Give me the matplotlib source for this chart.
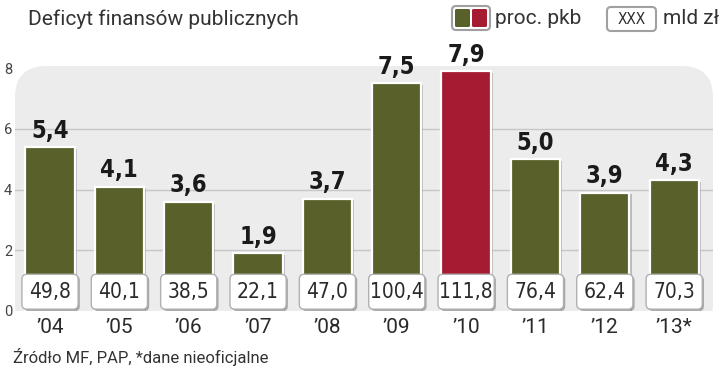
import matplotlib.pyplot as plt
from matplotlib.patches import FancyBboxPatch

lata = ["’04", "’05", "’06", "’07", "’08", "’09", "’10", "’11", "’12", "’13*"]
deficyt_pkb = [5.4, 4.1, 3.6, 1.9, 3.7, 7.5, 7.9, 5.0, 3.9, 4.3]
deficyt_mld = [49.8, 40.1, 38.5, 22.1, 47.0, 100.4, 111.8, 76.4, 62.4, 70.3]
wyrozniony = "’10"

oliwka = '#5a602a'
czerwony = '#a51c32'
tlo = '#ececec'
tekst = '#2a2a2a'

def pl(v):
    return f'{v:.1f}'.replace('.', ',')

fig = plt.figure(figsize=(7.2, 3.7), dpi=100)
ax = fig.add_axes([15/720, 1 - 311/370, 698/720, 245/370])
ax.set_xlim(-0.505, 9.56)
ax.set_ylim(0, 8.07)
ax.patch.set_visible(False)
for s in ax.spines.values():
    s.set_visible(False)

# szare tlo, zaokraglone tylko u gory (dol obciety przez osie)
panel = FancyBboxPatch((0, -0.1), 1, 1.1, boxstyle='round,pad=0,rounding_size=0.045',
                       mutation_aspect=698/245, transform=ax.transAxes,
                       facecolor=tlo, edgecolor='none', zorder=0)
ax.add_patch(panel)
for g in [2, 4, 6]:
    ax.axhline(g, color='#c6c6c6', lw=1, zorder=1)

x = list(range(len(lata)))
kolory = [czerwony if l == wyrozniony else oliwka for l in lata]
asp = 69.8 / 30.4

# cien pod slupkami
ax.bar([i + 0.02 for i in x], deficyt_pkb, width=0.73, bottom=-0.06,
       color='#9a9a9a', alpha=0.6, zorder=2)
ax.bar(x, deficyt_pkb, width=0.71, color=kolory, edgecolor='white',
       linewidth=1.6, zorder=3)

for i, v in enumerate(deficyt_pkb):
    ax.text(i, v + 0.14, pl(v), ha='center', va='bottom', fontsize=17,
            fontweight='bold', family='DejaVu Sans', fontstretch='condensed',
            color='#1a1a1a', zorder=5)

# ramki z kwotami w mld zl
for i, m in enumerate(deficyt_mld):
    sh = FancyBboxPatch((i - 0.40 + 0.02, 0.0), 0.81, 1.16,
                        boxstyle='round,pad=0,rounding_size=0.07',
                        mutation_aspect=asp, facecolor='#8a8a8a',
                        edgecolor='none', alpha=0.7, zorder=4)
    ax.add_patch(sh)
    b = FancyBboxPatch((i - 0.405, 0.06), 0.81, 1.15,
                       boxstyle='round,pad=0,rounding_size=0.07',
                       mutation_aspect=asp, facecolor='white',
                       edgecolor='#b0b0b0', linewidth=1, zorder=4.5)
    ax.add_patch(b)
    ax.text(i, 0.62, pl(m), ha='center', va='center', fontsize=15,
            family='DejaVu Sans', fontstretch='condensed', color=tekst, zorder=5)

ax.set_xticks(x)
ax.set_xticklabels(lata, fontsize=15, color=tekst, family='Roboto')
ax.set_yticks([0, 2, 4, 6, 8])
ax.set_yticklabels(['0', '2', '4', '6', '8'], fontsize=10.5, color='#444444',
                   family='Roboto')
ax.tick_params(axis='both', length=0)
ax.tick_params(axis='x', pad=5)
ax.tick_params(axis='y', pad=2)

fig.text(28/720, 1 - 19/370, 'Deficyt finansów publicznych', fontsize=15,
         family='Roboto', color='#333333', va='center')
fig.text(13/720, 1 - 357/370, 'Źródło MF, PAP, *dane nieoficjalne', fontsize=12,
         family='Roboto', color='#333333', va='center')

# legenda
leg = fig.add_axes([0, 0, 1, 1])
leg.set_xlim(0, 720)
leg.set_ylim(370, 0)
leg.axis('off')
leg.patch.set_visible(False)
leg.add_patch(FancyBboxPatch((452, 6), 38, 24, boxstyle='round,pad=0,rounding_size=4',
                             facecolor='white', edgecolor='#a0a0a0', lw=1.5))
leg.add_patch(FancyBboxPatch((455, 9), 15, 18, boxstyle='round,pad=0,rounding_size=1.5',
                             facecolor=oliwka, edgecolor='none'))
leg.add_patch(FancyBboxPatch((472, 9), 15, 18, boxstyle='round,pad=0,rounding_size=1.5',
                             facecolor=czerwony, edgecolor='none'))
leg.text(495, 19, 'proc. pkb', fontsize=15, family='Roboto', color='#333333',
         va='center')
leg.add_patch(FancyBboxPatch((607, 7), 49, 24, boxstyle='round,pad=0,rounding_size=4',
                             facecolor='white', edgecolor='#a0a0a0', lw=1.5))
leg.text(631.5, 19, 'XXX', fontsize=11, family='DejaVu Sans', fontstretch='condensed',
         color=tekst, va='center', ha='center')
leg.text(663, 19, 'mld zł', fontsize=15, family='Roboto', color='#333333',
         va='center')

fig.savefig('out.png', dpi=100)
